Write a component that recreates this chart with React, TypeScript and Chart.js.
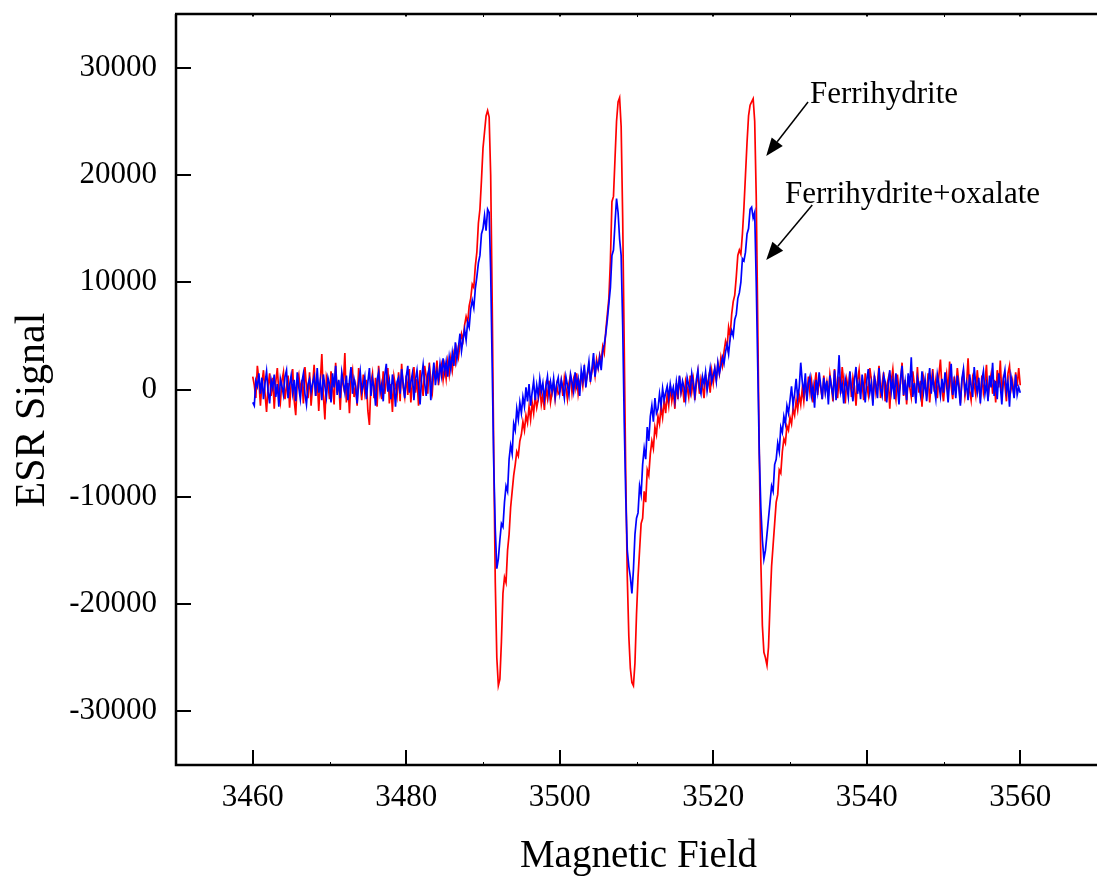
import { useEffect, useRef } from "react";
import { Chart, registerables } from "chart.js";

Chart.register(...registerables);

// Magnetic field sampling grid (G)
const fieldStart = 3460;
const fieldStep = 0.2;

// Axis ranges and ticks
const xMin = 3450;
const xMax = 3570;
const yMin = -35000;
const yMax = 35000;
const xTicks = [3460, 3480, 3500, 3520, 3540, 3560];
const xMinorTicks = [3450, 3470, 3490, 3510, 3530, 3550, 3570];
const yTicks = [-30000, -20000, -10000, 0, 10000, 20000, 30000];

const xTitle = "Magnetic Field";
const yTitle = "ESR Signal";

// Ferrihydrite (red)
const ferrihydrite = [
  // 3460.0 - 3464.8
  1200, 400, -800, 2200, 900, -1500, 600, 1800, -400, -2100, 300, 1500, -600, 1100, -1800, 700, 2000, -300, -1200, 800, 1600, -900, 200, 1300, -1700,
  // 3465.0 - 3469.8
  500, 1900, -1000, -2400, 800, 1400, -200, 900, -1300, 2100, 300, -800, 1600, -1500, 400, 2300, -600, 1000, -2000, 700, 3300, -500, -2800, 1200, 600,
  // 3470.0 - 3474.8
  -900, 1700, 200, -1400, 2500, -300, 800, -1900, 1300, 400, 3400, -1200, 600, -2200, 1000, 1800, -700, 300, -1500, 2000, 500, -1000, 1400, -300, 900,
  // 3475.0 - 3479.8
  -2000, -3300, 600, 1500, -800, 1100, -1600, 2200, 300, -900, 1700, -400, 800, 2000, -1300, 500, -2100, 1200, 300, -600, 1600, -1100, 2400, 200, -700,
  // 3480.0 - 3484.8
  1300, -500, 1900, -1200, 700, 2100, -300, 1000, -1500, 1800, 600, -600, 2200, 1200, -400, 2500, 800, -200, 1900, 1100, 2700, 400, 1600, 2300, 900,
  // 3485.0 - 3489.8
  2200, 1000, 2600, 1400, 2900, 1800, 3300, 2500, 3800, 3000, 4200, 5200, 4600, 6000, 6800, 6200, 7800, 8500, 9800, 9500, 11500, 12800, 15500, 16800, 19500,
  // 3490.0 - 3494.8
  22500, 24000, 25500, 26000, 25400, 20000, 8000, -6000, -18000, -25000, -27600, -27000, -23500, -19000, -17500, -18000, -15000, -13500, -11000, -9500, -8000, -7000, -5800, -6200, -4800,
  // 3495.0 - 3499.8
  -4200, -3000, -3800, -2400, -3100, -1600, -2800, -1200, -2200, -600, -1700, -900, 300, -1400, -500, -1900, 200, -800, 800, -1200, -300, 600, -900, 400, -400,
  // 3500.0 - 3504.8
  -200, 800, -600, 1100, 200, -900, 600, 1300, -300, 900, 100, 1500, -400, 700, 1200, 300, 1800, 600, 1400, 2200, 900, 1700, 2500, 1300, 2800,
  // 3505.0 - 3509.8
  2000, 3200, 2600, 4000, 3400, 5500, 7000, 8500, 12000, 17500, 18000, 21500, 25000, 26800, 27200, 24500, 16000, 4000, -8000, -17500, -23000, -26000, -27300, -27600, -25500,
  // 3510.0 - 3514.8
  -21000, -17500, -15000, -12500, -12000, -9500, -10500, -7500, -8000, -6000, -4800, -5500, -3500, -4200, -2500, -3200, -1600, -2600, -1000, -2200, -400, -1500, 300, -1100, -200,
  // 3515.0 - 3519.8
  -1800, 600, -900, 1200, -300, 400, -1200, 800, 200, -700, 1300, -200, 900, -1000, 500, 1600, -400, 1000, 300, -800, 1400, 200, 1100, -300, 1700,
  // 3520.0 - 3524.8
  600, 1900, 900, 2400, 1500, 3000, 2200, 3500, 4500, 3900, 5800, 5000, 7000, 8200, 8800, 10500, 12500, 13000, 12600, 14500, 17000, 20000, 23000, 25500, 26500,
  // 3525.0 - 3529.8
  26800, 27100, 25000, 18000, 6000, -6000, -16000, -22000, -24500, -25000, -25700, -24000, -20000, -16500, -14500, -12500, -10500, -9800, -7500, -7800, -5800, -4600, -5000, -3400, -3800,
  // 3530.0 - 3534.8
  -2600, -3200, -1800, -2400, -1000, -1900, -500, -1400, 100, -1100, 600, -700, 1200, -300, 800, -1200, 400, 1600, -500, 900, 200, -900, 1300, -200, 700,
  // 3535.0 - 3539.8
  -600, 1400, 300, -1100, 1900, 500, -800, 1200, -400, 2100, 700, -1300, 900, 0, 1600, -700, 1100, 300, -1500, 800, 1800, -200, 600, -1000, 1500,
  // 3540.0 - 3544.8
  400, -500, 2000, 900, -1200, 1300, -300, 700, 2200, -800, 500, 1600, -1100, 300, 1000, -1800, 800, 1900, 100, -900, 1400, -300, 600, 2500, -600,
  // 3545.0 - 3549.8
  900, -1400, 1200, 200, -700, 1700, 500, -1000, 2100, -300, 800, -1600, 1100, 300, -500, 1500, -1200, 600, 1900, -200, 900, -800, 1300, 2800, 100,
  // 3550.0 - 3554.8
  -1100, 700, 1500, -400, 2600, 300, -900, 1200, -200, 2000, 600, -1300, 800, 1600, -600, 400, 2900, -100, -1000, 1100, 500, -500, 1800, 200, -800,
  // 3555.0 - 3559.8
  1300, -300, 700, 2300, -900, 500, 1400, -400, 900, -1200, 1800, 200, 2700, -600, 1000, 400, -1100, 1500, 2200, 0, 800, -700, 1600, 300, 2000,
  // 3560.0
  400,
];

// Ferrihydrite + oxalate (blue)
const ferrihydriteOxalate = [
  // 3460.0 - 3464.8
  -1200, -1500, 800, 300, 1500, -400, 1100, -900, 600, 1700, -200, -1300, 900, 200, 1400, -700, 500, -1600, 1000, 300, -500, 1200, 1800, -800, 400,
  // 3465.0 - 3469.8
  1300, -300, 900, -1100, 1600, 200, -900, 700, 1500, -400, -1400, 500, 1000, -200, 600, 1200, -600, 2000, -300, 800, -1000, 1400, 300, -700, 1100,
  // 3470.0 - 3474.8
  500, -1200, 1500, 200, 2200, -500, 900, -800, 1600, 600, -300, 1300, -1000, 800, 2100, -400, 1000, 300, -1300, 600, 1700, -200, 400, 1200, -900,
  // 3475.0 - 3479.8
  700, 2000, -600, 1000, 200, -1500, 900, 1600, -300, 500, -1100, 1300, 2400, -200, 800, -900, 1400, 300, -1600, 700, 1100, -400, 1900, 600, -800,
  // 3480.0 - 3484.8
  1200, 2200, -300, 700, 1500, -1000, 900, 1800, 300, -1400, 1100, 2300, 600, -600, 1400, 2000, -1000, 1000, 2500, 400, 1700, 900, 2400, 1300, 2900,
  // 3485.0 - 3489.8
  1600, 2600, 1200, 3000, 1900, 3400, 2200, 4400, 2800, 3900, 5200, 3600, 4700, 5600, 4600, 6300, 5800, 7500, 8300, 7600, 9400, 10500, 11800, 12500, 14500,
  // 3490.0 - 3494.8
  15000, 16200, 14800, 16800, 16500, 11000, 2000, -7000, -13000, -16700, -15800, -14000, -12500, -12800, -10500, -9000, -9500, -6500, -5200, -6000, -3200, -3800, -1800, -2800, -1200,
  // 3495.0 - 3499.8
  -2200, -700, -1600, 200, -1100, 500, -1500, -300, 800, -1000, 400, -600, 1000, -200, 600, -900, 300, 1200, -500, 700, -200, 1000, -700, 500, 1100,
  // 3500.0 - 3504.8
  -300, 900, 200, -800, 1200, 400, -500, 1400, 700, -200, 1600, 300, 1000, -600, 1800, 800, 2300, 200, 1500, 2600, 700, 2000, 3400, 1200, 2500,
  // 3505.0 - 3509.8
  2000, 3000, 1800, 3600, 4200, 5200, 6500, 8000, 9500, 12500, 13000, 15500, 17800, 16500, 14000, 12500, 6000, -3000, -10000, -15000, -16500, -17500, -19000, -16800, -13500,
  // 3510.0 - 3514.8
  -12000, -11500, -9000, -9800, -7000, -5500, -6500, -3500, -4800, -2500, -1500, -3000, -800, -2200, -1800, -400, -1500, 100, -1000, -300, 300, -800, 500, -400, 200,
  // 3515.0 - 3519.8
  -1000, 700, -400, 1300, -200, 800, 200, -900, 1100, 400, -300, 1500, 600, -600, 900, 1800, 200, -400, 1200, 500, 1600, -100, 900, 2000, 700,
  // 3520.0 - 3524.8
  1300, 2000, 800, 2500, 1500, 2200, 3000, 2400, 3500, 4200, 3300, 4800, 5500, 5000, 6500, 7000, 8500, 9000, 10000, 12200, 12000, 12800, 14500, 15000, 16800,
  // 3525.0 - 3529.8
  17000, 16000, 16500, 10000, 2000, -6000, -11000, -14000, -15800, -15000, -13500, -12000, -10500, -9000, -9500, -7000, -6500, -5000, -5800, -3500, -4000, -2500, -3200, -1500, -2200,
  // 3530.0 - 3534.8
  -1000, 300, -1500, -400, 1000, -800, 200, 2500, 700, -300, 1500, -1100, 600, 1200, -600, 300, -1700, 900, -200, 1600, 400, -900, 1100, -300, 800,
  // 3535.0 - 3539.8
  -1400, 1300, 200, -600, 1800, -1000, 700, 3200, -200, 500, -1300, 1000, 300, -700, 1700, 100, -1100, 900, 2100, -400, 600, -900, 1400, 200, -1200,
  // 3540.0 - 3544.8
  800, 1900, -300, 600, -1500, 1200, 400, -800, 2000, 0, -600, 1300, 700, -1200, 500, 1800, -200, 900, -900, 1500, 300, -1400, 1000, 2200, -500,
  // 3545.0 - 3549.8
  700, -1000, 1500, 200, 3000, -700, 600, -1300, 1100, 400, -500, 1700, -200, 900, -1100, 600, 2000, -400, 1200, 100, -900, 1400, 500, -600, 1000,
  // 3550.0 - 3554.8
  -300, 1600, 400, -1200, 900, 2400, -500, 700, -800, 1300, 200, -1500, 1000, 1900, -200, 600, -1000, 1400, 300, -700, 2100, 500, -300, 1100, -1300,
  // 3555.0 - 3559.8
  900, 1700, -400, 600, -1100, 1300, 200, 2500, -600, 800, -900, 1500, 400, -1400, 1000, 1800, -200, 700, -1600, 1200, 300, -800, 1400, -500, 200,
  // 3560.0
  -300,
];

// Annotation labels with arrows (data coordinates)
const annotationTexts = ["Ferrihydrite", "Ferrihydrite+oxalate"];
const annotationTextX = [3532.6, 3529.35];
const annotationTextY = [26700, 17380];
const arrowFromX = [3532.35, 3532.9];
const arrowFromY = [26800, 17200];
const arrowToX = [3526.9, 3526.9];
const arrowToY = [21760, 12070];

const SERIF = '"Liberation Serif", "Times New Roman", serif';

const toPoints = (vals: number[]) =>
  vals.map((v, i) => ({ x: +(fieldStart + i * fieldStep).toFixed(1), y: v }));

const framePlugin = {
  id: "framePlugin",
  afterDatasetsDraw(chart: any) {
    const { ctx, chartArea: a, scales } = chart;
    const xs = scales.x;
    const ys = scales.y;
    ctx.save();
    ctx.strokeStyle = "#000";
    ctx.fillStyle = "#000";
    ctx.lineCap = "butt";

    // frame: left, bottom, top
    ctx.lineWidth = 2.5;
    ctx.beginPath();
    ctx.moveTo(a.left, a.top);
    ctx.lineTo(a.left, a.bottom);
    ctx.lineTo(a.right + 2, a.bottom);
    ctx.moveTo(a.left - 1, a.top);
    ctx.lineTo(a.right + 2, a.top);
    ctx.stroke();

    // major ticks (inward)
    ctx.lineWidth = 2;
    ctx.beginPath();
    for (const v of xTicks) {
      const px = Math.round(xs.getPixelForValue(v));
      ctx.moveTo(px, a.bottom);
      ctx.lineTo(px, a.bottom - 15);
      ctx.moveTo(px, a.top);
      ctx.lineTo(px, a.top + 2.5);
    }
    for (const v of yTicks) {
      const py = Math.round(ys.getPixelForValue(v));
      ctx.moveTo(a.left, py);
      ctx.lineTo(a.left + 15, py);
    }
    ctx.stroke();

    // minor ticks
    ctx.lineWidth = 1;
    ctx.beginPath();
    for (const v of xMinorTicks) {
      const px = Math.round(xs.getPixelForValue(v)) + 0.5;
      ctx.moveTo(px, a.bottom);
      ctx.lineTo(px, a.bottom - 3);
      ctx.moveTo(px, a.top);
      ctx.lineTo(px, a.top + 3);
    }
    ctx.stroke();

    // tick labels
    ctx.font = `31px ${SERIF}`;
    ctx.textAlign = "right";
    ctx.textBaseline = "middle";
    for (const v of yTicks) {
      ctx.fillText(String(v), a.left - 19, ys.getPixelForValue(v));
    }
    ctx.textAlign = "center";
    ctx.textBaseline = "alphabetic";
    for (const v of xTicks) {
      ctx.fillText(String(v), xs.getPixelForValue(v), a.bottom + 41);
    }

    // axis titles
    ctx.font = `39px ${SERIF}`;
    ctx.fillText(xTitle, (a.left + a.right) / 2 + 2, 867);
    ctx.save();
    ctx.translate(44, 410);
    ctx.rotate(-Math.PI / 2);
    ctx.font = `42px ${SERIF}`;
    ctx.fillText(yTitle, 0, 0);
    ctx.restore();

    // annotations
    ctx.font = `31px ${SERIF}`;
    ctx.textAlign = "left";
    for (let i = 0; i < annotationTexts.length; i++) {
      ctx.fillText(
        annotationTexts[i],
        xs.getPixelForValue(annotationTextX[i]),
        ys.getPixelForValue(annotationTextY[i])
      );
      const x1 = xs.getPixelForValue(arrowFromX[i]);
      const y1 = ys.getPixelForValue(arrowFromY[i]);
      const x2 = xs.getPixelForValue(arrowToX[i]);
      const y2 = ys.getPixelForValue(arrowToY[i]);
      const ang = Math.atan2(y2 - y1, x2 - x1);
      const headLen = 18;
      const headW = 7;
      const bx = x2 - headLen * Math.cos(ang);
      const by = y2 - headLen * Math.sin(ang);
      ctx.lineWidth = 1.5;
      ctx.beginPath();
      ctx.moveTo(x1, y1);
      ctx.lineTo(bx, by);
      ctx.stroke();
      ctx.beginPath();
      ctx.moveTo(x2, y2);
      ctx.lineTo(bx + headW * Math.sin(ang), by - headW * Math.cos(ang));
      ctx.lineTo(bx - headW * Math.sin(ang), by + headW * Math.cos(ang));
      ctx.closePath();
      ctx.fill();
    }
    ctx.restore();
  },
};

export default function App() {
  const canvasRef = useRef<HTMLCanvasElement | null>(null);

  useEffect(() => {
    document.body.style.margin = "0";
    const canvas = canvasRef.current;
    if (!canvas) return;
    const chart = new Chart(canvas, {
      type: "line",
      data: {
        datasets: [
          {
            label: "Ferrihydrite",
            data: toPoints(ferrihydrite),
            borderColor: "#ff0000",
            backgroundColor: "#ff0000",
            borderWidth: 1.7,
            pointRadius: 0,
            tension: 0,
            order: 2,
          },
          {
            label: "Ferrihydrite+oxalate",
            data: toPoints(ferrihydriteOxalate),
            borderColor: "#0000ff",
            backgroundColor: "#0000ff",
            borderWidth: 1.7,
            pointRadius: 0,
            tension: 0,
            order: 1,
          },
        ],
      },
      options: {
        responsive: false,
        animation: false,
        devicePixelRatio: 1,
        layout: { padding: { left: 176, top: 14, right: 0, bottom: 111 } },
        plugins: {
          legend: { display: false },
          tooltip: { enabled: false },
          title: { display: false },
        },
        events: [],
        scales: {
          x: { type: "linear", min: xMin, max: xMax, display: false },
          y: { type: "linear", min: yMin, max: yMax, display: false },
        },
      },
      plugins: [framePlugin],
    });
    return () => chart.destroy();
  }, []);

  return (
    <canvas
      ref={canvasRef}
      width={1097}
      height={876}
      style={{ display: "block", width: 1097, height: 876 }}
    />
  );
}
